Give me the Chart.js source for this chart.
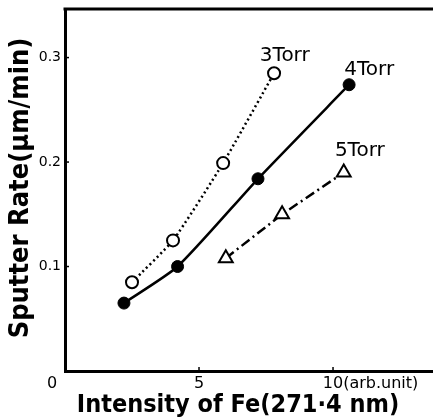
<!DOCTYPE html>
<html><head><meta charset="utf-8">
<script src="https://cdn.jsdelivr.net/npm/chart.js@4/dist/chart.umd.min.js"></script>
<style>html,body{margin:0;padding:0;background:#fff}#wrap{width:433px;height:419px}</style>
</head><body><div id="wrap"><canvas id="c" width="433" height="419"></canvas></div>
<script>
const torr3X = [2.5, 4.03, 5.9, 7.8];
const torr3Y = [0.085, 0.125, 0.199, 0.285];
const torr4X = [2.2, 4.2, 7.2, 10.6];
const torr4Y = [0.065, 0.100, 0.184, 0.274];
const torr5X = [6.0, 8.1, 10.4];
const torr5Y = [0.108, 0.150, 0.190];
const seriesLabels = ['3Torr', '4Torr', '5Torr'];
const labelX = [8.2, 11.35, 11.0];
const labelY = [0.302, 0.288, 0.211];
const xTickValues = [0, 5, 10];
const xTickLabels = ['0', '5', '10(arb.unit)'];
const yTickValues = [0.1, 0.2, 0.3];
const yTickLabels = ['0.1', '0.2', '0.3'];
const xTitle = 'Intensity of Fe(271·4 nm)';
const yTitle = 'Sputter Rate(μm/min)';

const pts = (xs, ys) => xs.map((x, i) => ({x, y: ys[i]}));
const FONT = '"DejaVu Sans", sans-serif';
const CFONT = '"DejaVu Sans Condensed", "DejaVu Sans", sans-serif';

const deco = {
  id: 'deco',
  afterDraw(chart) {
    const {ctx, chartArea: a, scales: {x, y}} = chart;
    ctx.save();
    ctx.strokeStyle = '#000';
    ctx.fillStyle = '#000';
    ctx.lineWidth = 3;
    ctx.beginPath();
    ctx.moveTo(a.left - 1.5, a.top);
    ctx.lineTo(a.right, a.top);
    ctx.stroke();
    ctx.lineWidth = 1.5;
    xTickValues.forEach((v, i) => {
      const px = x.getPixelForValue(v);
      if (v !== 0) { ctx.beginPath(); ctx.moveTo(px, a.bottom); ctx.lineTo(px, a.bottom - 4); ctx.stroke(); }
      ctx.font = '16px ' + FONT;
      ctx.textBaseline = 'middle';
      if (i === xTickLabels.length - 1) {
        ctx.textAlign = 'left';
        const w = ctx.measureText(String(v)).width;
        ctx.fillText(xTickLabels[i], px - w / 2, a.bottom + 13);
      } else {
        ctx.textAlign = 'center';
        ctx.fillText(xTickLabels[i], v === 0 ? px - 13 : px, a.bottom + 13);
      }
    });
    yTickValues.forEach((v, i) => {
      const py = y.getPixelForValue(v);
      ctx.beginPath(); ctx.moveTo(a.left, py); ctx.lineTo(a.left + 4, py); ctx.stroke();
      ctx.font = '14px ' + FONT;
      ctx.textAlign = 'right';
      ctx.textBaseline = 'middle';
      ctx.fillText(yTickLabels[i], a.left - 4, py);
    });
    ctx.font = 'bold 25px ' + CFONT;
    ctx.textAlign = 'center';
    ctx.textBaseline = 'middle';
    ctx.fillText(xTitle, 238, 405);
    ctx.save();
    ctx.translate(21, 188);
    ctx.rotate(-Math.PI / 2);
    ctx.font = 'bold 27px ' + CFONT;
    ctx.fillText(yTitle, 0, 0);
    ctx.restore();
    ctx.font = '20px ' + FONT;
    seriesLabels.forEach((t, i) => {
      ctx.fillText(t, x.getPixelForValue(labelX[i]), y.getPixelForValue(labelY[i]));
    });
    ctx.restore();
  }
};

new Chart(document.getElementById('c'), {
  type: 'scatter',
  data: {
    datasets: [
      { label: seriesLabels[0], data: pts(torr3X, torr3Y), showLine: true,
        borderColor: '#000', borderWidth: 2.5, borderDash: [2, 3], tension: 0.15,
        pointStyle: 'circle', pointRadius: 6, pointBackgroundColor: '#fff', pointBorderColor: '#000', pointBorderWidth: 2 },
      { label: seriesLabels[1], data: pts(torr4X, torr4Y), showLine: true,
        borderColor: '#000', borderWidth: 2.5, tension: 0.2,
        pointStyle: 'circle', pointRadius: 6, pointBackgroundColor: '#000', pointBorderColor: '#000', pointBorderWidth: 1 },
      { label: seriesLabels[2], data: pts(torr5X, torr5Y), showLine: true,
        borderColor: '#000', borderWidth: 2.5, borderDash: [10, 4, 2, 4], tension: 0,
        pointStyle: 'triangle', pointRadius: 8, pointBackgroundColor: '#fff', pointBorderColor: '#000', pointBorderWidth: 2 }
    ]
  },
  options: {
    responsive: false, animation: false, devicePixelRatio: 1,
    layout: { autoPadding: false, padding: { left: 0, right: 0, top: 9, bottom: 0 } },
    plugins: { legend: { display: false }, tooltip: { enabled: false } },
    scales: {
      x: { type: 'linear', min: 0, max: 13.73,
        grid: { display: false, drawTicks: false }, border: { display: true, color: '#000', width: 3 },
        ticks: { display: false },
        afterFit: s => { s.height = 48; s.paddingLeft = 0; s.paddingRight = 0; } },
      y: { type: 'linear', min: 0, max: 0.3465,
        grid: { display: false, drawTicks: false }, border: { display: true, color: '#000', width: 3 },
        ticks: { display: false },
        afterFit: s => { s.width = 65; s.paddingTop = 0; s.paddingBottom = 0; } }
    }
  },
  plugins: [deco]
});
</script></body></html>
